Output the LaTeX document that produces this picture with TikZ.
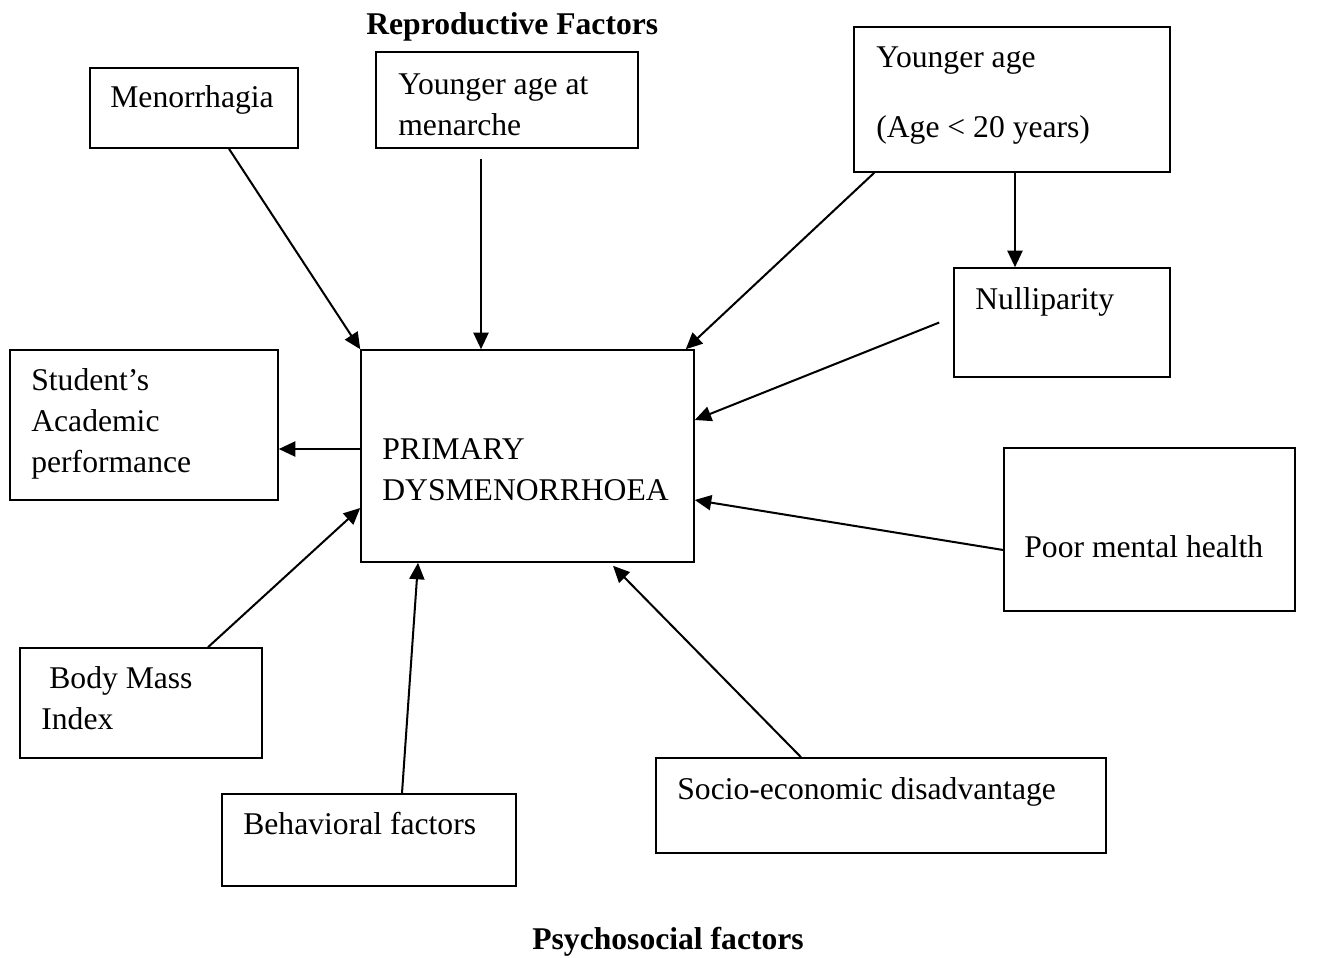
\documentclass[tikz,border=0pt]{standalone}
\usepackage{fontspec}
\setmainfont{Liberation Serif}
\usepackage{tikz}
\usetikzlibrary{arrows.meta,positioning,calc}

\begin{document}
\begin{tikzpicture}[
    x=0.02cm, y=-0.02cm,
    factor/.style={rectangle, draw=black, line width=0.9pt, inner sep=0pt},
    txt/.style={anchor=base west, inner sep=0pt, align=left, font=\fontsize{18}{23.3}\selectfont},
    title/.style={anchor=base west, inner sep=0pt, font=\fontsize{18}{23.3}\selectfont\bfseries},
    arrow/.style={-{Triangle[length=0.33cm, width=0.3cm]}, line width=1.15pt, black}
]
    \useasboundingbox (0,0) rectangle (1331,957);

    \node[title] (repro) at (366,34) {Reproductive Factors};
    \node[title] (psycho) at (532,949) {Psychosocial factors};

    \node[factor, minimum width=4.16cm, minimum height=1.6cm] (meno) at (194,108) {};
    \node[factor, minimum width=5.24cm, minimum height=1.92cm] (mena) at (507,100) {};
    \node[factor, minimum width=6.32cm, minimum height=2.9cm] (young) at (1012,99.5) {};
    \node[factor, minimum width=4.32cm, minimum height=2.18cm] (nulli) at (1062,322.5) {};
    \node[factor, minimum width=5.36cm, minimum height=3.0cm] (acad) at (144,425) {};
    \node[factor, minimum width=6.66cm, minimum height=4.24cm] (pd) at (527.5,456) {};
    \node[factor, minimum width=5.82cm, minimum height=3.26cm] (mental) at (1149.5,529.5) {};
    \node[factor, minimum width=4.84cm, minimum height=2.2cm] (bmi) at (141,703) {};
    \node[factor, minimum width=5.88cm, minimum height=1.84cm] (behav) at (369,840) {};
    \node[factor, minimum width=9.0cm, minimum height=1.9cm] (socio) at (881,805.5) {};

    \node[txt] (meno-t) at (110,107) {Menorrhagia};
    \node[txt] (mena-t) at (398,135) {Younger age at\\menarche};
    \node[txt] (young-t) at (876,137) {Younger age\\[0.58cm](Age < 20 years)};
    \node[txt] (nulli-t) at (975,309) {Nulliparity};
    \node[txt] (acad-t) at (31,472) {Student’s\\Academic\\performance};
    \node[txt] (pd-t) at (382,500) {PRIMARY\\DYSMENORRHOEA};
    \node[txt] (mental-t) at (1024,557) {Poor mental health};
    \node[txt] (bmi-t) at (41,729) {\hspace{0.16cm}Body Mass\\Index};
    \node[txt] (behav-t) at (243,834) {Behavioral factors};
    \node[txt] (socio-t) at (677,799) {Socio-economic disadvantage};

    \coordinate (mena-s) at ([xshift=-0.52cm, yshift=-0.2cm]mena.south);
    \coordinate (young-s) at ([xshift=0.06cm]young.south);
    \coordinate (pd-w) at ([yshift=0.14cm]pd.west);

    \draw[arrow] ([xshift=0.7cm]meno.south) -- (pd.north west);
    \draw[arrow] (mena-s) -- (mena-s |- pd.north);
    \draw[arrow] ([xshift=0.42cm]young.south west) -- ([xshift=-0.18cm]pd.north east);
    \draw[arrow] (young-s) -- (young-s |- nulli.north);
    \draw[arrow] ([xshift=-0.28cm]nulli.west) -- ([yshift=0.72cm]pd.east);
    \draw[arrow] (pd-w) -- (pd-w -| acad.east);
    \draw[arrow] ([yshift=-0.41cm]mental.west) -- ([yshift=-0.88cm]pd.east);
    \draw[arrow] ([xshift=1.34cm]bmi.north) -- ([yshift=-1.04cm]pd.west);
    \draw[arrow] ([xshift=0.66cm]behav.north) -- ([xshift=-2.19cm]pd.south);
    \draw[arrow] ([xshift=-1.6cm]socio.north) -- ([xshift=1.71cm, yshift=-0.06cm]pd.south);
\end{tikzpicture}
\end{document}
